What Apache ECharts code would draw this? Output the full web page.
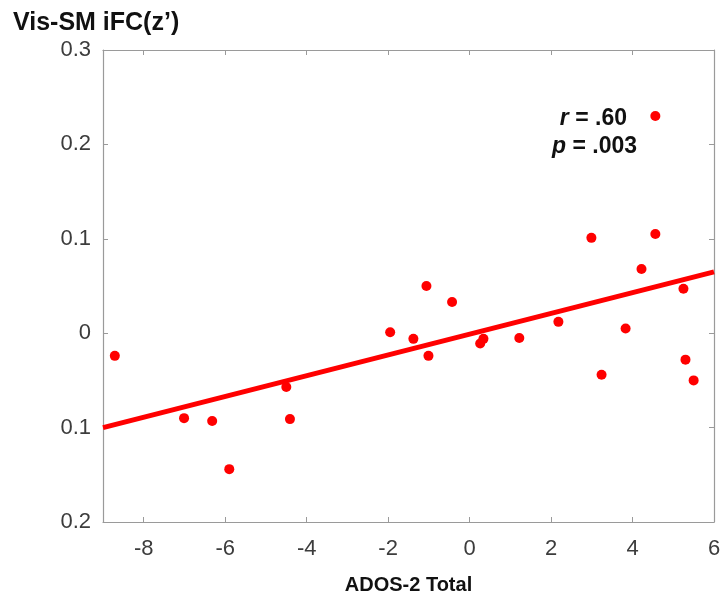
<!DOCTYPE html>
<html>
<head>
<meta charset="utf-8">
<script src="https://cdn.jsdelivr.net/npm/echarts@6/dist/echarts.min.js"></script>
<style>
  html, body {margin:0; padding:0; background:#fff;}
  #main {width:724px; height:603px;}
</style>
</head>
<body>
<div id="main"></div>
<script>
// ADOS-2 total score (x) vs Vis-SM iFC z' (y)
let ados_x = [-8.71, -7.01, -6.32, -5.90, -4.50, -4.41, -1.95, -1.38, -1.06, -1.01, -0.43, 0.26, 0.34, 1.22, 2.18, 2.99, 3.24, 3.83, 4.22, 4.56, 4.56, 5.25, 5.30, 5.50];
let ifc_y = [-0.024, -0.090, -0.093, -0.144, -0.057, -0.091, 0.001, -0.006, 0.050, -0.024, 0.033, -0.011, -0.006, -0.005, 0.012, 0.101, -0.044, 0.005, 0.068, 0.230, 0.105, 0.047, -0.028, -0.050];
let fit_x = [-9, 6];
let fit_y = [-0.100, 0.065];
let x_ticks = [-8, -6, -4, -2, 0, 2, 4, 6];
let y_tick_values = [-0.2, -0.1, 0, 0.1, 0.2, 0.3];
let y_tick_labels = ['0.2', '0.1', '0', '0.1', '0.2', '0.3'];

function data_chart(){
    let scatter_pts = ados_x.map(function(v, i){ return [v, ifc_y[i]]; });
    let fit_pts = fit_x.map(function(v, i){ return [v, fit_y[i]]; });

    let fontFam = '"Liberation Sans", Arial, sans-serif';
    let axisCol = '#9a9a9a';
    let labelCol = '#3c3c3c';

    let chart_box = echarts.init(document.getElementById('main'));
    let chart_option = {
        animation: false,
        grid: {left: 103, right: 10, top: 50, bottom: 81, containLabel: false},
        title: {
            text: 'Vis-SM iFC(z\u2019)',
            left: 8, top: 6,
            textStyle: {fontFamily: fontFam, fontSize: 25, fontWeight: 'bold', color: '#111'}
        },
        xAxis: [
            {
                type: 'value', min: -9, max: 6, interval: 2,
                name: 'ADOS-2 Total', nameLocation: 'middle', nameGap: 53,
                nameTextStyle: {fontFamily: fontFam, fontSize: 20, fontWeight: 'bold', color: '#111'},
                axisLine: {show: true, onZero: false, lineStyle: {color: axisCol, width: 1.2}},
                axisTick: {show: true, inside: true, length: 5, lineStyle: {color: axisCol}, customValues: x_ticks},
                axisLabel: {color: labelCol, fontSize: 22, fontFamily: fontFam, margin: 16, customValues: x_ticks},
                splitLine: {show: false}
            },
            {
                type: 'value', min: -9, max: 6, position: 'top',
                axisLine: {show: true, onZero: false, lineStyle: {color: axisCol, width: 1.2}},
                axisTick: {show: true, inside: true, length: 5, lineStyle: {color: axisCol}, customValues: x_ticks},
                axisLabel: {show: false},
                splitLine: {show: false}
            }
        ],
        yAxis: [
            {
                type: 'value', min: -0.2, max: 0.3, interval: 0.1,
                axisLine: {show: true, onZero: false, lineStyle: {color: axisCol, width: 1.2}},
                axisTick: {show: true, inside: true, length: 5, lineStyle: {color: axisCol}},
                axisLabel: {
                    color: labelCol, fontSize: 22, fontFamily: fontFam, margin: 12,
                    formatter: function(v){
                        let idx = y_tick_values.findIndex(function(t){ return Math.abs(t - v) < 1e-6; });
                        return idx >= 0 ? y_tick_labels[idx] : '';
                    }
                },
                splitLine: {show: false}
            },
            {
                type: 'value', min: -0.2, max: 0.3, interval: 0.1, position: 'right',
                axisLine: {show: true, onZero: false, lineStyle: {color: axisCol, width: 1.2}},
                axisTick: {show: true, inside: true, length: 5, lineStyle: {color: axisCol}},
                axisLabel: {show: false},
                splitLine: {show: false}
            }
        ],
        series: [
            {
                name: 'fit',
                type: 'line',
                data: fit_pts,
                symbol: 'none',
                lineStyle: {color: '#ff0000', width: 5},
                z: 2
            },
            {
                name: 'subjects',
                type: 'scatter',
                data: scatter_pts,
                symbolSize: 10,
                itemStyle: {color: '#ff0000', opacity: 1},
                z: 3
            }
        ],
        graphic: [
            {
                type: 'text', right: 97, top: 107,
                style: {
                    text: '{i|r} = .60',
                    font: 'bold 23px "Liberation Sans", Arial, sans-serif',
                    fill: '#111',
                    rich: {i: {fontStyle: 'italic', fontWeight: 'bold', fontSize: 23, fontFamily: fontFam, fill: '#111'}}
                }
            },
            {
                type: 'text', right: 87, top: 135,
                style: {
                    text: '{i|p} = .003',
                    font: 'bold 23px "Liberation Sans", Arial, sans-serif',
                    fill: '#111',
                    rich: {i: {fontStyle: 'italic', fontWeight: 'bold', fontSize: 23, fontFamily: fontFam, fill: '#111'}}
                }
            }
        ]
    };
    chart_box.setOption(chart_option);
    window.onresize = chart_box.resize;
}

data_chart();
</script>
</body>
</html>
